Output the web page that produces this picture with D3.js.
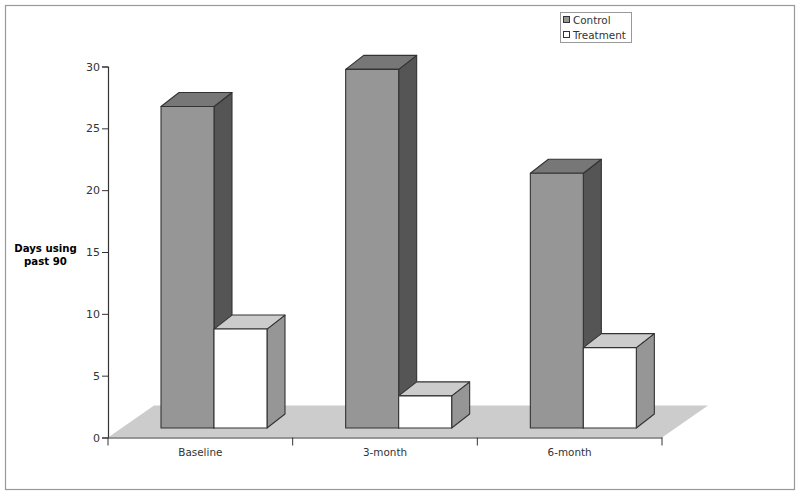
<!DOCTYPE html>
<html>
<head>
<meta charset="utf-8">
<script src="https://cdn.jsdelivr.net/npm/d3@7"></script>
<style>
  html, body { margin: 0; padding: 0; background: #fff; }
  svg { display: block; }
  text { font-family: "DejaVu Sans", sans-serif; font-size: 10.4px; fill: #333; }
</style>
</head>
<body>
<script>
var categories = ["Baseline", "3-month", "6-month"];
var seriesNames = ["Control", "Treatment"];
var control = [26.0, 29.0, 20.6];
var treatment = [8.0, 2.6, 6.5];
var yTicks = [0, 5, 10, 15, 20, 25, 30];

var width = 800, height = 496;
var depthX = 18, depthY = 14;   // bar depth
var baseLift = 9.5;             // bars stand a bit behind the front edge of the floor

var x = d3.scaleBand().domain(categories).range([108, 662]);
var y = d3.scaleLinear().domain([0, 30]).range([437.5, 66.5]);

// bars inside one category
var x1 = d3.scaleBand().domain(seriesNames).range([53, 159]);

var styles = {
  Control: { front: "#969696", top: "#777777", side: "#555555" },
  Treatment: { front: "#ffffff", top: "#cccccc", side: "#969696" }
};

var svg = d3.select("body").append("svg")
    .attr("width", width)
    .attr("height", height);

// outer frame
svg.append("rect")
    .attr("x", 5.5).attr("y", 5.5)
    .attr("width", 789).attr("height", 484)
    .attr("fill", "#fff")
    .attr("stroke", "#999")
    .attr("stroke-width", 1.2);

// floor
var floorDx = 46, floorDy = 32;
svg.append("polygon")
    .attr("points", [
      [x.range()[0], y(0)],
      [x.range()[1], y(0)],
      [x.range()[1] + floorDx, y(0) - floorDy],
      [x.range()[0] + floorDx, y(0) - floorDy]
    ].join(" "))
    .attr("fill", "#cccccc");

var base = y(0) - baseLift;

function drawBar(cat, name, value) {
  var s = styles[name];
  var x0 = x(cat) + x1(name),
      x2 = x0 + x1.bandwidth(),
      top = y(value) - baseLift;
  var g = svg.append("g")
      .attr("stroke", "#333")
      .attr("stroke-width", 1.1)
      .attr("stroke-linejoin", "round");

  g.append("polygon")
      .attr("points", [[x2, top], [x2 + depthX, top - depthY], [x2 + depthX, base - depthY], [x2, base]].join(" "))
      .attr("fill", s.side);
  g.append("polygon")
      .attr("points", [[x0, top], [x0 + depthX, top - depthY], [x2 + depthX, top - depthY], [x2, top]].join(" "))
      .attr("fill", s.top);
  g.append("rect")
      .attr("x", x0).attr("y", top)
      .attr("width", x2 - x0).attr("height", base - top)
      .attr("fill", s.front);
}

categories.forEach(function(c, i) {
  drawBar(c, "Control", control[i]);
  drawBar(c, "Treatment", treatment[i]);
});

// y axis
var yAxis = svg.append("g")
    .attr("transform", "translate(108,0)")
    .call(d3.axisLeft(y).tickValues(yTicks).tickSize(6).tickPadding(2));
yAxis.select(".domain").attr("stroke", "#333").attr("stroke-width", 1.2);
yAxis.selectAll(".tick line").attr("stroke", "#333");
yAxis.selectAll("text").style("font-size", "11px").style("fill", "#333");

// x axis, labels in the middle of each band
var xAxis = svg.append("g")
    .attr("transform", "translate(0," + y(0) + ")")
    .call(d3.axisBottom(x).tickSize(0).tickPadding(11));
xAxis.select(".domain").attr("stroke", "#777").attr("stroke-width", 1.6);
xAxis.selectAll("text").style("font-size", "10.4px").style("fill", "#333");

// x ticks sit on the band edges
var edges = categories.map(function(c) { return x(c); }).concat([x.range()[1]]);
xAxis.selectAll(".edge")
    .data(edges)
  .enter().append("line")
    .attr("class", "edge")
    .attr("x1", function(d) { return d; })
    .attr("x2", function(d) { return d; })
    .attr("y1", 0)
    .attr("y2", 8)
    .attr("stroke", "#333");

// y title
svg.append("text")
    .attr("x", 45.5).attr("y", 252)
    .attr("text-anchor", "middle")
    .style("font-weight", "bold")
    .style("font-size", "10.2px")
    .style("fill", "#000")
    .text("Days using");
svg.append("text")
    .attr("x", 45.5).attr("y", 265)
    .attr("text-anchor", "middle")
    .style("font-weight", "bold")
    .style("font-size", "10.2px")
    .style("fill", "#000")
    .text("past 90");

// legend
var legend = svg.append("g");
legend.append("rect")
    .attr("x", 560.5).attr("y", 12.5)
    .attr("width", 71).attr("height", 30)
    .attr("fill", "#fff")
    .attr("stroke", "#999");
seriesNames.forEach(function(name, i) {
  legend.append("rect")
      .attr("x", 563.5).attr("y", 16.5 + i * 15)
      .attr("width", 6).attr("height", 6)
      .attr("fill", styles[name].front)
      .attr("stroke", "#333");
  legend.append("text")
      .attr("x", 573).attr("y", 24 + i * 15)
      .text(name);
});
</script>
</body>
</html>
